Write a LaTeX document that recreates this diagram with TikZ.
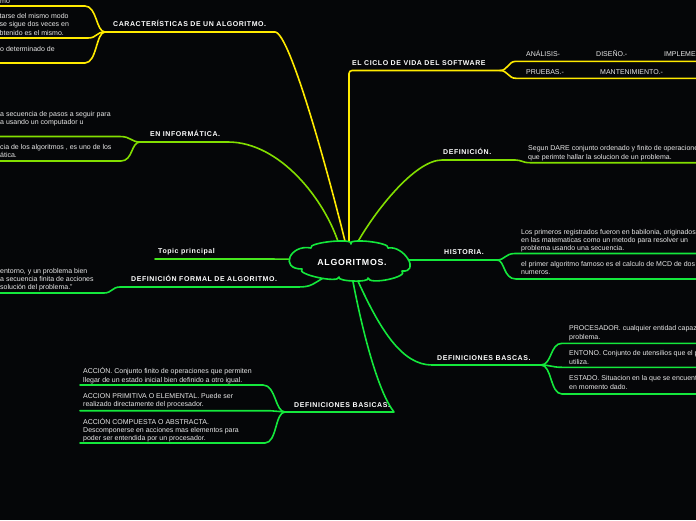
\documentclass[tikz,border=0pt]{standalone}
\usepackage{fontspec}
\setmainfont{Liberation Sans}
\newfontfamily\lblfont[LetterSpace=8]{Liberation Sans}
\usetikzlibrary{shapes.geometric}
\definecolor{bg}{RGB}{5,6,8}
\definecolor{cyel}{RGB}{255,234,0}
\definecolor{clime}{RGB}{130,222,0}
\definecolor{cgreen}{RGB}{20,232,60}
\definecolor{ctopic}{RGB}{70,230,30}
\definecolor{ctxt}{RGB}{232,232,232}
\tikzset{
  conn/.style={line width=1.6pt, line cap=round, line join=round},
  yel/.style={conn, draw=cyel},
  lim/.style={conn, draw=clime},
  grn/.style={conn, draw=cgreen},
  lbl/.style={font=\lblfont\bfseries\fontsize{7}{8}\selectfont, text=white, inner sep=0pt, anchor=base west},
  txt/.style={font=\fontsize{7}{8.3}\selectfont, text=ctxt, inner sep=0pt, anchor=base west, align=left},
}
\begin{document}
\begin{tikzpicture}[x=1pt,y=-1pt]
\fill[bg] (0,0) rectangle (696,520);
\useasboundingbox (0,0) rectangle (696,520);

% invisible anchor ellipse for the central topic
\node[ellipse, minimum width=112pt, minimum height=34pt, inner sep=0pt, draw=none] (c) at (349,261) {};

% ---------- coordinates (forks and free ends)
\coordinate (cf) at (105,32);
\coordinate (cfa) at (-3,6);
\coordinate (cfb) at (-3,38);
\coordinate (cfc) at (-3,63);
\coordinate (if) at (140,142);
\coordinate (ifa) at (-3,136.5);
\coordinate (ifb) at (-3,161);
\coordinate (tp) at (155,259);
\coordinate (ff) at (120,287);
\coordinate (ffa) at (-3,293);
\coordinate (cyf) at (500,70.5);
\coordinate (cya) at (699,61.3);
\coordinate (cyb) at (699,78.3);
\coordinate (df) at (515,160);
\coordinate (dfa) at (699,162.7);
\coordinate (hf) at (497,260);
\coordinate (hfa) at (699,253.5);
\coordinate (hfb) at (699,279);
\coordinate (bf) at (541,365);
\coordinate (bfa) at (699,343.3);
\coordinate (bfb) at (699,367.3);
\coordinate (bfc) at (699,394);
\coordinate (sf) at (285,412);
\coordinate (sfa) at (80,385);
\coordinate (sfb) at (80,410.7);
\coordinate (sfc) at (80,443);

% ---------- CARACTERISTICAS
\draw[yel] (c.101) .. controls (330,180) and (290,32) .. (275,32) -- (cf);
\draw[yel] (cf) .. controls (96,32) and (97,6) .. (85,6) -- (cfa);
\draw[yel] (cf) .. controls (96,32) and (97,38) .. (88,38) -- (cfb);
\draw[yel] (cf) .. controls (96,32) and (97,63) .. (85,63) -- (cfc);
\node[lbl] (car) at (113,26.7) {CARACTERÍSTICAS DE UN ALGORITMO.};
\node[txt] (t1) at (0,3.4) {mo};
\node[txt] (t2) at (-0.5,35.1) {tarse del mismo modo\\ se sigue dos veces en\\btenido es el mismo.};
\node[txt] (t3) at (0,51.7) {o determinado de};

% ---------- EN INFORMATICA
\draw[lim] (c.121) .. controls (325,200) and (280,142) .. (228,142) -- (if);
\draw[lim] (if) .. controls (131,142) and (131,136.5) .. (120,136.5) -- (ifa);
\draw[lim] (if) .. controls (131,142) and (133,161) .. (121,161) -- (ifb);
\node[lbl] (inf) at (150,136) {EN INFORMÁTICA.};
\node[txt] (t4) at (0,124.9) {a secuencia de pasos a seguir para\\a usando un computador u};
\node[txt] (t5) at (0,157.9) {cia de los algoritmos , es uno de los\\ática.};

% ---------- Topic principal
\draw[conn, draw=ctopic] (c.178) -- (tp);
\node[lbl] (top) at (158,253.4) {Topic principal};

% ---------- DEFINICION FORMAL
\draw[grn] (c.214) .. controls (312,284) and (312,287) .. (298,287) -- (ff);
\draw[grn] (ff) .. controls (112,287) and (112,293) .. (104,293) -- (ffa);
\node[lbl] (dfo) at (131,281.7) {DEFINICIÓN FORMAL DE ALGORITMO.};
\node[txt] (t6) at (0,289.9) {entorno, y un problema bien\\a secuencia finita de acciones\\solución del problema.”};

% ---------- CICLO DE VIDA
\draw[yel, rounded corners=3pt] (c.90) |- (cyf);
\draw[yel] (cyf) .. controls (508,70.5) and (508,61.3) .. (516,61.3) -- (cya);
\draw[yel] (cyf) .. controls (508,70.5) and (508,78.3) .. (516,78.3) -- (cyb);
\node[lbl] (cic) at (352,65.1) {EL CICLO DE VIDA DEL SOFTWARE};
\node[txt] (t7) at (526,56.7) {ANÁLISIS-};
\node[txt] (t8) at (596,56.7) {DISEÑO.-};
\node[txt] (t9) at (664,56.7) {IMPLEMENTACIÓN.-};
\node[txt] (t10) at (526,74.1) {PRUEBAS.-};
\node[txt] (t11) at (600,74.1) {MANTENIMIENTO.-};

% ---------- DEFINICION
\draw[lim] (c.66) .. controls (375,211) and (415,160) .. (442,160) -- (df);
\draw[lim] (df) .. controls (522,160) and (522,162.7) .. (530,162.7) -- (dfa);
\node[lbl] (def) at (443,154.7) {DEFINICIÓN.};
\node[txt] (t12) at (528,159.1) {Segun DARE conjunto ordenado y finito de operaciones\\que perimte hallar la solucion de un problema.};

% ---------- HISTORIA
\draw[grn] (c.1) -- (hf);
\draw[grn] (hf) .. controls (505,260) and (505,253.5) .. (515,253.5) -- (hfa);
\draw[grn] (hf) .. controls (505,260) and (503,279) .. (516,279) -- (hfb);
\node[lbl] (his) at (444,254.1) {HISTORIA.};
\node[txt] (t13) at (521,250.7) {Los primeros registrados fueron en babilonia, originados\\en las matematicas como un metodo para resolver un\\problema usando una secuencia.};
\node[txt] (t14) at (521,274.7) {el primer algoritmo famoso es el calculo de MCD de dos\\numeros.};

% ---------- DEFINICIONES BASCAS
\draw[grn] (c.-66) .. controls (380,330) and (402,365) .. (432,365) -- (bf);
\draw[grn] (bf) .. controls (552,365) and (550,343.3) .. (562,343.3) -- (bfa);
\draw[grn] (bf) .. controls (550,365) and (552,367.3) .. (562,367.3) -- (bfb);
\draw[grn] (bf) .. controls (552,365) and (550,394) .. (562,394) -- (bfc);
\node[lbl] (bas) at (437,360.1) {DEFINICIONES BASCAS.};
\node[txt] (t15) at (569,339.1) {PROCESADOR. cualquier entidad capaz\\problema.};
\node[txt] (t16) at (569,364.1) {ENTONO. Conjunto de utensilios que el p\\utiliza.};
\node[txt] (t17) at (569,389.1) {ESTADO. Situacion en la que se encuentra\\en momento dado.};

% ---------- DEFINICIONES BASICAS
\draw[grn] (c.-79) .. controls (362,330) and (378,392) .. (394,412) -- (sf);
\draw[grn] (sf) .. controls (275,412) and (276,385) .. (263,385) -- (sfa);
\draw[grn] (sf) .. controls (278,412) and (278,410.7) .. (270,410.7) -- (sfb);
\draw[grn] (sf) .. controls (275,412) and (277,443) .. (265,443) -- (sfc);
\node[lbl] (bsi) at (294,407.1) {DEFINICIONES BASICAS.};
\node[txt] (t18) at (83,382.1) {ACCIÓN. Conjunto finito de operaciones que permiten\\llegar de un estado inicial bien definido a otro igual.};
\node[txt] (t19) at (83,406.7) {ACCION PRIMITIVA O ELEMENTAL. Puede ser\\realizado directamente del procesador.};
\node[txt] (t20) at (83,440.7) {ACCIÓN COMPUESTA O ABSTRACTA.\\Descomponerse en acciones mas elementos para\\poder ser entendida por un procesador.};

% ---------- central cloud
\draw[conn, draw=cgreen, fill=bg]
  (311,248) .. controls (307,242.4) and (355,237.6) .. (351,244)
  .. controls (346.6,237.6) and (391,242.4) .. (388,248)
  .. controls (403.9,245) and (420.7,272.6) .. (402,271)
  .. controls (409.4,277) and (368.6,285.4) .. (368,278)
  .. controls (370.9,282.8) and (336.1,281.6) .. (339,277)
  .. controls (339.4,283.8) and (295,274.2) .. (302,269)
  .. controls (279.1,269.1) and (289.9,243.9) .. cycle;
\node[font=\lblfont\bfseries\fontsize{8.8}{10}\selectfont, text=white, inner sep=0pt] (ct) at (352,262.5) {ALGORITMOS.};
\end{tikzpicture}
\end{document}
